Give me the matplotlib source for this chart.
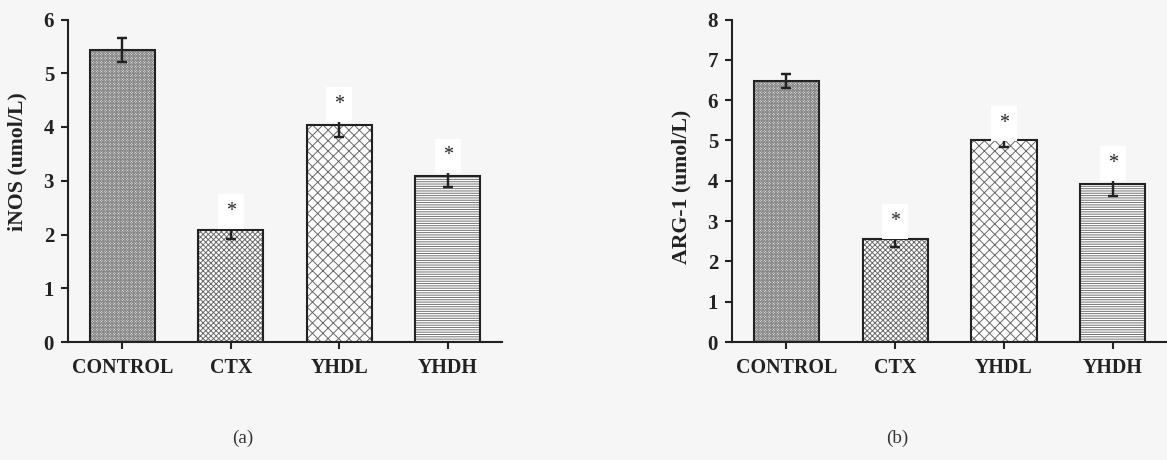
import matplotlib
matplotlib.use("Agg")
import matplotlib.pyplot as plt

plt.rcParams['font.family'] = ['Liberation Serif', 'DejaVu Serif']
plt.rcParams['hatch.linewidth'] = 0.55

# ---- data ----
categories = ["CONTROL", "CTX", "YHDL", "YHDH"]
inos_values = [5.43, 2.08, 4.03, 3.08]
inos_errors = [0.22, 0.16, 0.21, 0.20]
arg_values = [6.48, 2.55, 5.00, 3.91]
arg_errors = [0.17, 0.20, 0.17, 0.28]
significant = [False, True, True, True]
inos_ticks = [0, 1, 2, 3, 4, 5, 6]
arg_ticks = [0, 1, 2, 3, 4, 5, 6, 7, 8]
hatches = ['x' * 16, 'x' * 8, 'xxxx', '-' * 9]
hatch_colors = ['#8a8a8a', '#6a6a6a', '#666666', '#707070']

DPI = 125
fig = plt.figure(figsize=(1167 / DPI, 460 / DPI), dpi=DPI)
fig.patch.set_facecolor('#f6f6f6')

ax1 = fig.add_axes([68 / 1167, 1 - 342 / 460, 434 / 1167, 322.5 / 460])
ax2 = fig.add_axes([732 / 1167, 1 - 342 / 460, 435 / 1167, 322.5 / 460])


def draw(ax, values, errors, ticks, ylabel, label_y):
    x = list(range(len(categories)))
    ax.set_facecolor('none')
    for xi, v, h, hc in zip(x, values, hatches, hatch_colors):
        ax.bar(xi, v, width=0.6, color='white', edgecolor=hc,
               hatch=h, linewidth=0, zorder=2)
        ax.bar(xi, v, width=0.6, fill=False, edgecolor='#222222',
               linewidth=1.2, zorder=3)
    ax.errorbar(x, values, yerr=errors, fmt='none', ecolor='#222222',
                elinewidth=1.4, capsize=2.6, capthick=1.4, zorder=4)
    for xi, v, e, s in zip(x, values, errors, significant):
        if s:
            ax.annotate('*', xy=(xi, v + e), xytext=(0, 3.0),
                        textcoords='offset points', ha='center',
                        va='baseline', fontsize=11.5, color='#222222',
                        bbox=dict(boxstyle='square,pad=0.4', fc='white',
                                  ec='none'), zorder=5)
    ax.set_xlim(-0.5, 3.5)
    ax.set_ylim(0, ticks[-1])
    ax.set_yticks(ticks)
    ax.set_xticks(x)
    ax.set_xticklabels(categories)
    for sp in ['top', 'right']:
        ax.spines[sp].set_visible(False)
    for sp in ['left', 'bottom']:
        ax.spines[sp].set_linewidth(1.2)
        ax.spines[sp].set_color('#222222')
    ax.tick_params(axis='both', direction='out', length=4, width=1.2,
                   color='#222222')
    ax.tick_params(axis='y', pad=4, labelsize=12)
    ax.tick_params(axis='x', pad=5, labelsize=11.5)
    for lab in ax.get_xticklabels() + ax.get_yticklabels():
        lab.set_fontweight('bold')
        lab.set_color('#222222')
    ax.set_ylabel(ylabel, fontsize=12.5, fontweight='bold', color='#222222')
    ax.yaxis.set_label_coords(-0.094, label_y)
    ax.spines['bottom'].set_zorder(6)


draw(ax1, inos_values, inos_errors, inos_ticks, 'iNOS (umol/L)', 0.56)
draw(ax2, arg_values, arg_errors, arg_ticks, 'ARG-1 (umol/L)', 0.48)

fig.text(243 / 1167, 1 - 438 / 460, '(a)', ha='center', va='center',
         fontsize=11, color='#333333')
fig.text(897 / 1167, 1 - 438 / 460, '(b)', ha='center', va='center',
         fontsize=11, color='#333333')

fig.savefig('out.png', dpi=DPI, facecolor=fig.get_facecolor())
